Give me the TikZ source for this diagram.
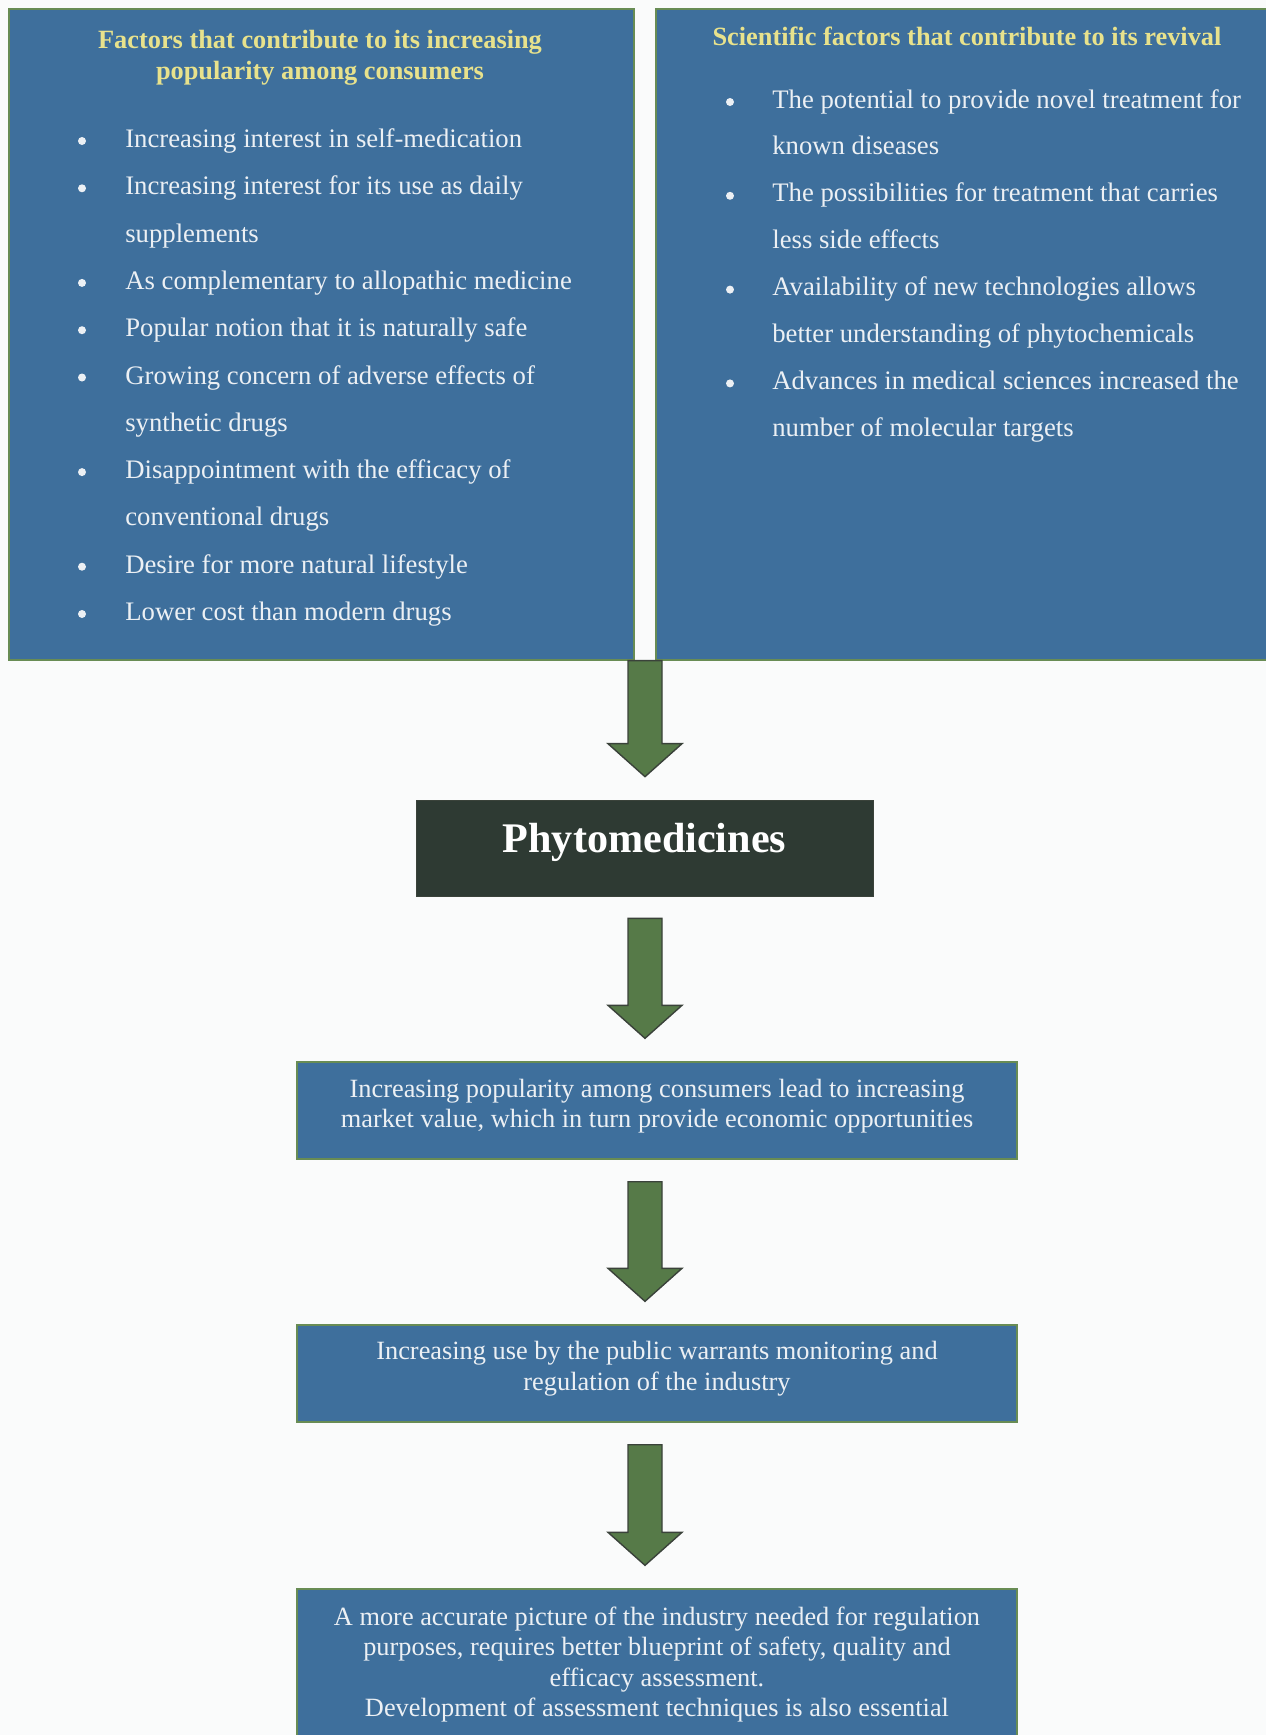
\documentclass[tikz,border=0pt]{standalone}
\usepackage{fontspec}
\setmainfont{Liberation Serif}
\usetikzlibrary{calc}

\definecolor{boxblue}{RGB}{62,111,156}
\definecolor{boxedge}{RGB}{104,140,84}
\definecolor{headyellow}{RGB}{232,226,140}
\definecolor{arrowgreen}{RGB}{86,122,72}
\definecolor{arrowedge}{RGB}{58,66,58}
\definecolor{phytodark}{RGB}{46,58,51}
\definecolor{paper}{RGB}{250,251,251}
\definecolor{textwhite}{RGB}{236,240,244}

\tikzset{
	factorbox/.style={draw=boxedge, fill=boxblue, line width=0.8pt, inner sep=0pt},
	stepbox/.style={draw=boxedge, fill=boxblue, line width=0.8pt, minimum width=14.4cm, align=center, text=textwhite, font=\fontsize{15}{17.4}\selectfont},
	heading/.style={text=headyellow, font=\bfseries\fontsize{15}{17.6}\selectfont, align=center},
	factor/.style={anchor=base west, text=textwhite, font=\fontsize{15.2}{18}\selectfont, inner sep=0pt},
	bullet/.style={circle, fill=textwhite, minimum size=0.16cm, inner sep=0pt},
	blockarrow/.style={draw=arrowedge, fill=arrowgreen, line width=0.8pt, line join=miter},
}

% block arrow: shaft from #1 down to just above #2
\newcommand{\flowarrow}[2]{%
	\draw[blockarrow] let \p1=(#1), \p2=(#2) in
		(\x1-0.34cm,\y1) -- (\x1-0.34cm,\y2+1.12cm) -- (\x1-0.74cm,\y2+1.12cm)
		-- (\x1,\y2+0.46cm) -- (\x1+0.74cm,\y2+1.12cm) -- (\x1+0.34cm,\y2+1.12cm)
		-- (\x1+0.34cm,\y1) -- cycle;}

\begin{document}
\begin{tikzpicture}[x=0.02cm, y=-0.02cm]
	\fill[paper] (0,0) rectangle (1266,1735);
	\useasboundingbox (0,0) rectangle (1266,1735);

	% two factor boxes
	\node[factorbox, minimum width=12.5cm, minimum height=13.02cm] (pop) at (321.5,334.5) {};
	\node[factorbox, minimum width=12.32cm, minimum height=13.02cm] (sci) at (964,334.5) {};

	\node[heading] (pophead) at (320,57.5) {Factors that contribute to its increasing\\popularity among consumers};
	\node[heading] (scihead) at (967,36) {Scientific factors that contribute to its revival};

	% consumer factors
	\foreach \txt/\b [count=\i from 0] in {
		Increasing interest in self-medication/1,
		Increasing interest for its use as daily/1,
		supplements/0,
		As complementary to allopathic medicine/1,
		Popular notion that it is naturally safe/1,
		Growing concern of adverse effects of/1,
		synthetic drugs/0,
		Disappointment with the efficacy of/1,
		conventional drugs/0,
		Desire for more natural lifestyle/1,
		Lower cost than modern drugs/1}{
		\node[factor] (pop\i) at (125,147.5+47.3*\i) {\txt};
		\ifnum\b=1 \node[bullet] (popdot\i) at (82,141+47.3*\i) {}; \fi
	}

	% scientific factors
	\foreach \txt/\b [count=\i from 0] in {
		The potential to provide novel treatment for/1,
		known diseases/0,
		The possibilities for treatment that carries/1,
		less side effects/0,
		Availability of new technologies allows/1,
		better understanding of phytochemicals/0,
		Advances in medical sciences increased the/1,
		number of molecular targets/0}{
		\node[factor] (sci\i) at (772,108+46.9*\i) {\txt};
		\ifnum\b=1 \node[bullet] (scidot\i) at (730,102+46.9*\i) {}; \fi
	}

	% main chain
	\node[draw=arrowedge, fill=phytodark, minimum width=9.14cm, minimum height=1.92cm, text depth=11.5pt,
		text=white, font=\bfseries\fontsize{24}{28}\selectfont] (phyto) at (644.5,848) {Phytomedicines};
	\node[stepbox, minimum height=1.94cm, text depth=8pt] (market) at (657,1110.5)
		{Increasing popularity among consumers lead to increasing\\market value, which in turn provide economic opportunities};
	\node[stepbox, minimum height=1.94cm, text depth=8.5pt] (regul) at (657,1373.5)
		{Increasing use by the public warrants monitoring and\\regulation of the industry};
	\node[stepbox, minimum height=3.02cm] (assess) at (657,1664.5)
		{A more accurate picture of the industry needed for regulation\\purposes, requires better blueprint of safety, quality and\\efficacy assessment.\\Development of assessment techniques is also essential};

	% arrows
	\coordinate (gap) at ($(pop.south east)!0.5!(sci.south west)$);
	\coordinate (a2) at ($(gap |- phyto.south)+(0,-0.44cm)$);
	\coordinate (a3) at ($(gap |- market.south)+(0,-0.44cm)$);
	\coordinate (a4) at ($(gap |- regul.south)+(0,-0.44cm)$);
	\flowarrow{gap}{phyto.north}
	\flowarrow{a2}{market.north}
	\flowarrow{a3}{regul.north}
	\flowarrow{a4}{assess.north}
\end{tikzpicture}
\end{document}
